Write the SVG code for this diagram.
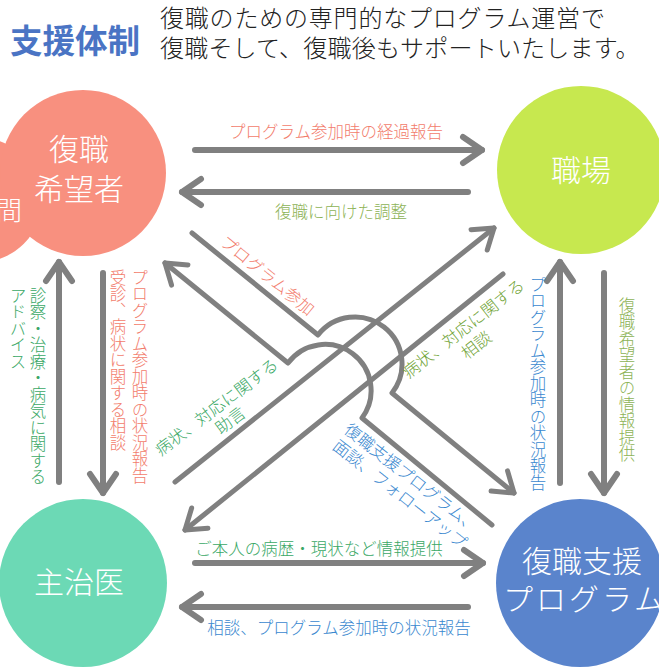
<svg xmlns="http://www.w3.org/2000/svg" width="659" height="669" viewBox="0 0 659 669">
<style>
text{font-family:"Noto Sans CJK JP","Noto Sans",sans-serif;}
.node{fill:#fff;font-weight:300;font-size:30px;text-anchor:middle;}
.lbl{font-size:16.5px;font-weight:300;}
.v{writing-mode:vertical-rl;font-size:16.5px;font-weight:300;}
.arr{fill:none;stroke:#808080;stroke-width:6;stroke-linecap:round;stroke-linejoin:round;}
.dia{fill:none;stroke:#808080;stroke-width:5;stroke-linecap:round;stroke-linejoin:round;}
.salmon{fill:#F27C6C;}
.green{fill:#3AA866;}
.olive{fill:#8DB356;}
.olive2{fill:#6FA335;}
.blue{fill:#3A88CF;}
</style>
<defs>
<marker id="ah6" markerUnits="userSpaceOnUse" viewBox="-25 -20 30 40" markerWidth="30" markerHeight="40" refX="0" refY="0" orient="auto" overflow="visible">
<path d="M-19,-13 L0,0 L-19,13" fill="none" stroke="#808080" stroke-width="6" stroke-linecap="round" stroke-linejoin="round"/>
</marker>
<marker id="ah5" markerUnits="userSpaceOnUse" viewBox="-25 -20 30 40" markerWidth="30" markerHeight="40" refX="0" refY="0" orient="auto" overflow="visible">
<path d="M-19,-13 L0,0 L-19,13" fill="none" stroke="#808080" stroke-width="5" stroke-linecap="round" stroke-linejoin="round"/>
</marker>
</defs>

<g id="title">
<text x="10" y="53" font-size="32.5" font-weight="bold" fill="#4A74C4">支援体制</text>
<text x="160" y="27" font-size="24" font-weight="300" fill="#222" letter-spacing="0.8">復職のための専門的なプログラム運営で</text>
<text x="160" y="57" font-size="24" font-weight="300" fill="#222" letter-spacing="0.2">復職そして、復職後もサポートいたします。</text>
</g>

<g id="node-kibousha">
<circle cx="-20" cy="200" r="62" fill="#F8907F"/>
<circle cx="83" cy="173" r="83" fill="#F8907F"/>
<text x="22" y="220" font-size="26" font-weight="300" fill="#fff" text-anchor="end">間</text>
<text class="node" x="79" y="160">復職</text>
<text class="node" x="79" y="200">希望者</text>
</g>

<g id="node-shokuba">
<circle cx="581" cy="170" r="84" fill="#C7E84F"/>
<text class="node" x="581" y="181">職場</text>
</g>

<g id="node-shujii">
<circle cx="83" cy="583" r="84" fill="#6CD9B5"/>
<text class="node" x="79" y="593">主治医</text>
</g>

<g id="node-program">
<circle cx="580" cy="583" r="84" fill="#5A84CC"/>
<text class="node" x="582" y="572" font-size="32">復職支援</text>
<text class="node" x="503" y="610" font-size="32" letter-spacing="3" style="text-anchor:start">プログラム</text>
</g>

<g id="connectors">
<path class="arr" d="M195,150 H482" marker-end="url(#ah6)"/>
<path class="arr" d="M468,192 H182" marker-end="url(#ah6)"/>
<path class="arr" d="M195,563 H483" marker-end="url(#ah6)"/>
<path class="arr" d="M468,607 H182" marker-end="url(#ah6)"/>
<path class="arr" d="M59,482 V262" marker-end="url(#ah6)"/>
<path class="arr" d="M103,273 V493" marker-end="url(#ah6)"/>
<path class="arr" d="M560,483 V262" marker-end="url(#ah6)"/>
<path class="arr" d="M604,273 V493" marker-end="url(#ah6)"/>
<path class="dia" d="M175,482 L494,228" marker-end="url(#ah5)"/>
<path class="dia" d="M503,274 L185,530" marker-end="url(#ah5)"/>
<path class="dia" d="M192,233 L318,335 A47,47 0 0 1 392,393 L514,493" marker-end="url(#ah5)"/>
<path class="dia" d="M492,525 L362,418 A46,46 0 0 0 288,363 L165,263" marker-end="url(#ah5)"/>
</g>

<g id="labels">
<text class="lbl salmon" x="336" y="138" text-anchor="middle">プログラム参加時の経過報告</text>
<text class="lbl olive" x="341" y="218" text-anchor="middle">復職に向けた調整</text>
<text class="lbl green" x="319" y="555" text-anchor="middle">ご本人の病歴・現状など情報提供</text>
<text class="lbl blue" x="339" y="634" text-anchor="middle">相談、プログラム参加時の状況報告</text>

<text class="v green" x="38" y="287">診察・治療・病気に関する</text>
<text class="v green" x="18" y="287">アドバイス</text>
<text class="v salmon" x="140" y="269">プログラム参加時の状況報告</text>
<text class="v salmon" x="118" y="269">受診、病状に関する相談</text>
<text class="v blue" x="538" y="276">プログラム参加時の状況報告</text>
<text class="v olive" x="627" y="297">復職希望者の情報提供</text>

<g transform="translate(267.5,275.5) rotate(39)">
<text class="lbl salmon" x="0" y="6" text-anchor="middle">プログラム参加</text>
</g>
<g transform="translate(216.5,407) rotate(-37)">
<text class="lbl green" x="0" y="6" text-anchor="middle">病状、対応に関する</text>
<text class="lbl green" x="3" y="25" text-anchor="middle">助言</text>
</g>
<g transform="translate(463.5,328.5) rotate(-38)">
<text class="lbl olive2" x="0" y="6" text-anchor="middle">病状、対応に関する</text>
<text class="lbl olive2" x="0" y="27" text-anchor="middle">相談</text>
</g>
<g transform="translate(353,432) rotate(38)">
<text class="lbl blue" x="-8" y="6">復職支援プログラム、</text>
<text class="lbl blue" x="-7" y="26">面談、フォローアップ</text>
</g>
</g>
</svg>
